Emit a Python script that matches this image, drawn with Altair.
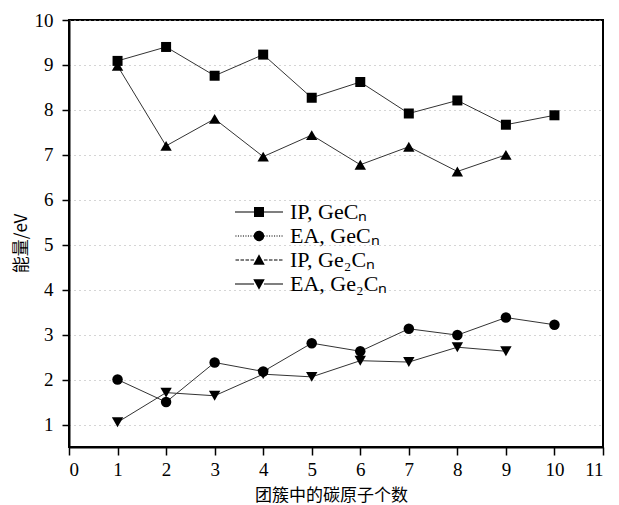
import altair as alt
import pandas as pd

# ---- data ----
carbon_n = [1, 2, 3, 4, 5, 6, 7, 8, 9, 10]
series_names = ["IP, GeCₙ", "EA, GeCₙ", "IP, Ge₂Cₙ", "EA, Ge₂Cₙ"]
ip_gec = [9.09, 9.40, 8.76, 9.23, 8.27, 8.62, 7.92, 8.21, 7.67, 7.88]
ea_gec = [2.00, 1.50, 2.38, 2.18, 2.81, 2.63, 3.13, 2.99, 3.38, 3.22]
ip_ge2c = [8.98, 7.20, 7.80, 6.96, 7.44, 6.78, 7.18, 6.63, 7.00]
ea_ge2c = [1.05, 1.71, 1.64, 2.12, 2.06, 2.42, 2.39, 2.72, 2.63]
x_ticks = list(range(0, 12))
y_ticks = list(range(1, 11))

rows = []
for name, vals in zip(series_names, [ip_gec, ea_gec, ip_ge2c, ea_ge2c]):
    for n, v in zip(carbon_n, vals):
        rows.append({"n": n, "energy": v, "series": name})
df = pd.DataFrame(rows)

# ---- marker styles ----
marker_shapes = ["square", "circle", "triangle-up", "triangle-down"]
marker_sizes = [100, 110, 130, 130]

# ---- legend symbols: marker with a (filled, thin) line through it ----
def seg(a, b, t=0.1):
    return f"M{a:.2f},{-t}L{b:.2f},{-t}L{b:.2f},{t}L{a:.2f},{t}Z"

def line_path(dash, gap, half=4.8, inner=1.0):
    parts = []
    for sign in (-1, 1):
        x = inner
        while x < half:
            x2 = min(x + (half - inner if gap == 0 else dash), half)
            a, b = sorted((sign * x, sign * x2))
            parts.append(seg(a, b))
            x = x2 + gap
    return "".join(parts)

sq = "M-1,-1L1,-1L1,1L-1,1Z"
ci = "M-1.05,0A1.05,1.05 0 1,1 1.05,0A1.05,1.05 0 1,1 -1.05,0Z"
tu = "M-1.15,0.95L0,-1.15L1.15,0.95Z"
td = "M-1.15,-0.95L1.15,-0.95L0,1.15Z"
legend_paths = [
    line_path(1, 0) + sq,
    line_path(0.22, 0.28) + ci,
    line_path(0.7, 0.3) + tu,
    line_path(1, 0) + td,
]

xscale = alt.Scale(domain=[0, 11], nice=False, zero=False)
yscale = alt.Scale(domain=[0.5, 10], nice=False, zero=False)

x_enc = alt.X(
    "n:Q", scale=xscale,
    axis=alt.Axis(
        values=x_ticks, grid=False, title="团簇中的碳原子个数",
        titleX=262, titleY=48, titleBaseline="middle", titleAlign="center",
        labelPadding=5, tickSize=8,
    ),
)
y_enc = alt.Y(
    "energy:Q", scale=yscale,
    axis=alt.Axis(
        values=y_ticks, grid=True, title="能量/eV",
        titleX=-48, titleY=223, titleAngle=270, titleAlign="center",
        titleBaseline="middle", labelPadding=9,
    ),
)

base = alt.Chart(df)

lines = base.mark_line(color="#333333", strokeWidth=1).encode(
    x=x_enc, y=y_enc, detail="series:N"
)

point_layers = []
for name, shp, sz in zip(series_names, marker_shapes, marker_sizes):
    point_layers.append(
        base.transform_filter(alt.datum.series == name)
        .mark_point(filled=True, color="black", opacity=1, shape=shp, size=sz)
        .encode(x=x_enc, y=y_enc)
    )

legend_layer = base.transform_filter("datum.n > 100").mark_point(
    filled=True, fill="black", opacity=1
).encode(
    x=x_enc, y=y_enc,
    shape=alt.Shape(
        "series:N",
        scale=alt.Scale(domain=series_names, range=legend_paths),
        legend=alt.Legend(
            title=None, orient="none", legendX=179, legendY=181,
            padding=0, rowPadding=2, symbolSize=100,
            symbolFillColor="black", symbolOpacity=1, labelOffset=20,
            labelFont="Liberation Serif", labelFontSize=22,
            labelColor="black", labelLimit=300,
        ),
    ),
)

chart = (
    alt.layer(lines, *point_layers, legend_layer)
    .properties(
        width=534, height=427,
        autosize=alt.AutoSizeParams(type="none"),
        padding={"left": 61, "top": 12, "right": 8, "bottom": 58},
        background="white",
    )
    .configure_view(stroke="black", strokeWidth=2)
    .configure_axis(
        domainColor="black", domainWidth=2, tickColor="black", tickWidth=1.5,
        tickSize=7, labelFont="Liberation Serif", labelFontSize=19,
        labelColor="black", gridColor="#aaaaaa",
        gridDash=[1, 4], gridWidth=1, titleFont="Noto Sans CJK SC",
        titleFontSize=17, titleFontWeight="normal", titleColor="black",
    )
)

chart.save("out.html", embed_options={"renderer": "svg", "actions": False})
